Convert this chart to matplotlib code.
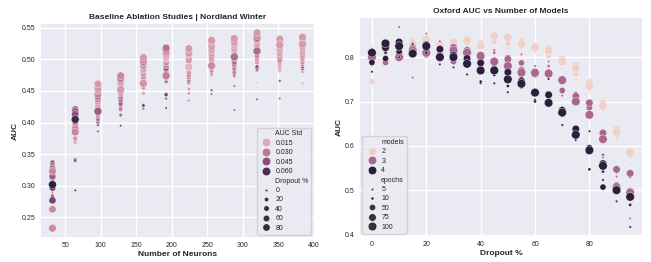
import matplotlib
matplotlib.use("Agg")
import matplotlib.pyplot as plt
import numpy as np
import pandas as pd
import seaborn as sns

# ---- left: baseline ablation (Nordland Winter) ----
neurons = [32, 64, 96, 128, 160, 192, 224, 256, 288, 320, 352, 384]
dropouts = [0, 5, 10, 15, 20, 25, 30, 35, 40, 45, 50, 55, 60, 65, 70, 75, 80, 85, 90, 95]

auc_left = [
    [0.290, 0.285, 0.283, 0.295, 0.310, 0.305, 0.337, 0.333, 0.330, 0.318,
     0.313, 0.320, 0.327, 0.297, 0.315, 0.277, 0.263, 0.323, 0.233, 0.302],
    [0.293, 0.342, 0.340, 0.368, 0.370, 0.373, 0.375, 0.385, 0.388, 0.392,
     0.396, 0.400, 0.410, 0.415, 0.421, 0.418, 0.413, 0.390, 0.385, 0.405],
    [0.386, 0.396, 0.399, 0.401, 0.405, 0.410, 0.413, 0.416, 0.420, 0.424,
     0.426, 0.430, 0.433, 0.437, 0.442, 0.445, 0.450, 0.454, 0.461, 0.418],
    [0.395, 0.410, 0.412, 0.420, 0.422, 0.428, 0.430, 0.436, 0.440, 0.445,
     0.448, 0.452, 0.455, 0.458, 0.462, 0.465, 0.468, 0.470, 0.474, 0.452],
    [0.422, 0.428, 0.427, 0.446, 0.455, 0.462, 0.465, 0.470, 0.472, 0.476,
     0.478, 0.482, 0.484, 0.488, 0.490, 0.494, 0.496, 0.499, 0.503, 0.462],
    [0.423, 0.438, 0.445, 0.444, 0.465, 0.470, 0.474, 0.478, 0.484, 0.486,
     0.490, 0.495, 0.500, 0.502, 0.505, 0.508, 0.511, 0.515, 0.518, 0.474],
    [0.435, 0.446, 0.453, 0.463, 0.466, 0.471, 0.475, 0.480, 0.484, 0.488,
     0.492, 0.497, 0.500, 0.503, 0.507, 0.508, 0.510, 0.514, 0.517, 0.488],
    [0.445, 0.451, 0.475, 0.478, 0.482, 0.485, 0.488, 0.490, 0.493, 0.497,
     0.500, 0.505, 0.509, 0.512, 0.515, 0.520, 0.525, 0.528, 0.530, 0.490],
    [0.420, 0.458, 0.474, 0.477, 0.480, 0.485, 0.490, 0.493, 0.496, 0.500,
     0.504, 0.508, 0.512, 0.515, 0.518, 0.522, 0.525, 0.528, 0.533, 0.504],
    [0.437, 0.463, 0.483, 0.486, 0.488, 0.495, 0.500, 0.505, 0.512, 0.515,
     0.518, 0.520, 0.524, 0.527, 0.530, 0.532, 0.534, 0.537, 0.542, 0.513],
    [0.438, 0.466, 0.482, 0.485, 0.488, 0.491, 0.495, 0.498, 0.500, 0.503,
     0.505, 0.508, 0.510, 0.514, 0.518, 0.522, 0.525, 0.528, 0.532, 0.523],
    [0.462, 0.480, 0.485, 0.488, 0.492, 0.495, 0.499, 0.502, 0.506, 0.510,
     0.514, 0.517, 0.520, 0.523, 0.526, 0.528, 0.530, 0.532, 0.535, 0.524],
]
std_left = [
    [0.030, 0.055, 0.050, 0.060, 0.060, 0.055, 0.045, 0.040, 0.040, 0.050,
     0.035, 0.030, 0.035, 0.055, 0.040, 0.050, 0.025, 0.025, 0.025, 0.067],
    [0.050, 0.045, 0.045, 0.020, 0.020, 0.020, 0.020, 0.030, 0.025, 0.030,
     0.035, 0.030, 0.035, 0.035, 0.040, 0.040, 0.045, 0.025, 0.025, 0.062],
    [0.045, 0.040, 0.040, 0.035, 0.035, 0.030, 0.030, 0.030, 0.035, 0.025,
     0.025, 0.020, 0.020, 0.025, 0.035, 0.030, 0.020, 0.020, 0.020, 0.040],
    [0.050, 0.020, 0.035, 0.035, 0.030, 0.030, 0.040, 0.035, 0.030, 0.025,
     0.025, 0.020, 0.020, 0.020, 0.020, 0.025, 0.030, 0.030, 0.025, 0.020],
    [0.040, 0.040, 0.048, 0.015, 0.025, 0.025, 0.030, 0.030, 0.028, 0.025,
     0.025, 0.022, 0.020, 0.025, 0.025, 0.028, 0.032, 0.030, 0.020, 0.022],
    [0.045, 0.035, 0.050, 0.052, 0.030, 0.030, 0.025, 0.030, 0.045, 0.045,
     0.025, 0.025, 0.020, 0.015, 0.020, 0.020, 0.025, 0.030, 0.032, 0.028],
    [0.030, 0.025, 0.020, 0.030, 0.028, 0.025, 0.025, 0.025, 0.020, 0.015,
     0.020, 0.025, 0.030, 0.022, 0.020, 0.020, 0.025, 0.022, 0.020, 0.012],
    [0.035, 0.035, 0.020, 0.020, 0.030, 0.028, 0.025, 0.025, 0.022, 0.020,
     0.020, 0.022, 0.025, 0.020, 0.020, 0.022, 0.025, 0.020, 0.020, 0.025],
    [0.035, 0.025, 0.035, 0.032, 0.030, 0.030, 0.030, 0.035, 0.040, 0.028,
     0.035, 0.025, 0.020, 0.020, 0.020, 0.020, 0.020, 0.022, 0.020, 0.035],
    [0.040, 0.005, 0.040, 0.040, 0.040, 0.020, 0.020, 0.025, 0.035, 0.030,
     0.025, 0.025, 0.025, 0.020, 0.020, 0.035, 0.035, 0.025, 0.020, 0.035],
    [0.040, 0.035, 0.020, 0.018, 0.015, 0.018, 0.020, 0.025, 0.035, 0.028,
     0.025, 0.022, 0.020, 0.020, 0.020, 0.025, 0.025, 0.022, 0.020, 0.020],
    [0.020, 0.020, 0.040, 0.035, 0.025, 0.025, 0.025, 0.022, 0.020, 0.022,
     0.020, 0.020, 0.025, 0.022, 0.020, 0.020, 0.020, 0.020, 0.020, 0.020],
]

# ---- right: Oxford AUC vs number of models ----
dropout_pct = [0, 5, 10, 15, 20, 25, 30, 35, 40, 45, 50, 55, 60, 65, 70, 75, 80, 85, 90, 95]
epochs = [5, 10, 50, 75, 100]
models = [2, 3, 4]

auc_m2 = [
    [0.778, 0.785, 0.745, 0.795, 0.800], [0.758, 0.800, 0.810, 0.820, 0.825],
    [0.805, 0.810, 0.815, 0.820, 0.825], [0.820, 0.825, 0.830, 0.836, 0.830],
    [0.830, 0.835, 0.842, 0.838, 0.840], [0.820, 0.825, 0.828, 0.830, 0.828],
    [0.825, 0.830, 0.838, 0.835, 0.832], [0.815, 0.825, 0.831, 0.842, 0.838],
    [0.810, 0.820, 0.828, 0.831, 0.826], [0.820, 0.830, 0.836, 0.851, 0.848],
    [0.810, 0.820, 0.831, 0.848, 0.845], [0.810, 0.818, 0.825, 0.836, 0.830],
    [0.810, 0.815, 0.820, 0.825, 0.822], [0.790, 0.800, 0.804, 0.820, 0.815],
    [0.775, 0.782, 0.790, 0.797, 0.790], [0.740, 0.750, 0.762, 0.781, 0.775],
    [0.720, 0.730, 0.730, 0.743, 0.735], [0.670, 0.680, 0.685, 0.697, 0.690],
    [0.615, 0.620, 0.623, 0.637, 0.630], [0.547, 0.560, 0.579, 0.588, 0.585],
]
auc_m3 = [
    [0.819, 0.810, 0.800, 0.805, 0.800], [0.790, 0.795, 0.788, 0.830, 0.825],
    [0.868, 0.815, 0.803, 0.810, 0.800], [0.754, 0.815, 0.823, 0.820, 0.815],
    [0.853, 0.810, 0.805, 0.810, 0.810], [0.836, 0.810, 0.800, 0.805, 0.800],
    [0.800, 0.790, 0.790, 0.822, 0.815], [0.810, 0.800, 0.817, 0.815, 0.810],
    [0.790, 0.795, 0.806, 0.800, 0.803], [0.816, 0.810, 0.793, 0.790, 0.790],
    [0.800, 0.780, 0.799, 0.795, 0.780], [0.806, 0.785, 0.787, 0.770, 0.765],
    [0.780, 0.770, 0.766, 0.762, 0.765], [0.790, 0.780, 0.767, 0.765, 0.763],
    [0.713, 0.720, 0.725, 0.750, 0.748], [0.715, 0.720, 0.704, 0.712, 0.700],
    [0.700, 0.690, 0.686, 0.697, 0.670], [0.574, 0.580, 0.613, 0.629, 0.615],
    [0.531, 0.540, 0.512, 0.547, 0.507], [0.436, 0.530, 0.499, 0.538, 0.495],
]
auc_m4 = [
    [0.767, 0.790, 0.788, 0.810, 0.810], [0.800, 0.810, 0.797, 0.821, 0.831],
    [0.800, 0.823, 0.813, 0.834, 0.825], [0.830, 0.810, 0.813, 0.810, 0.808],
    [0.820, 0.810, 0.819, 0.828, 0.825], [0.784, 0.800, 0.803, 0.818, 0.800],
    [0.777, 0.795, 0.807, 0.805, 0.800], [0.761, 0.780, 0.787, 0.797, 0.785],
    [0.741, 0.745, 0.773, 0.787, 0.770], [0.741, 0.760, 0.775, 0.770, 0.770],
    [0.721, 0.735, 0.752, 0.766, 0.750], [0.731, 0.736, 0.749, 0.745, 0.740],
    [0.704, 0.700, 0.722, 0.720, 0.720], [0.751, 0.697, 0.717, 0.715, 0.697],
    [0.647, 0.668, 0.682, 0.680, 0.675], [0.613, 0.620, 0.629, 0.638, 0.625],
    [0.633, 0.547, 0.596, 0.590, 0.590], [0.523, 0.542, 0.507, 0.560, 0.555],
    [0.475, 0.497, 0.503, 0.503, 0.500], [0.417, 0.467, 0.486, 0.486, 0.485],
]

# build long tables
rows = []
for i, n in enumerate(neurons):
    for j, d in enumerate(dropouts):
        rows.append({"Number of Neurons": n, "AUC": auc_left[i][j],
                     "AUC Std": std_left[i][j], "Dropout %": d})
df_left = pd.DataFrame(rows)

rows = []
for m, table in zip(models, [auc_m2, auc_m3, auc_m4]):
    for i, d in enumerate(dropout_pct):
        for k, e in enumerate(epochs):
            rows.append({"Dropout %": d, "AUC": table[i][k], "models": m, "epochs": e})
df_right = pd.DataFrame(rows)

sns.set_theme(style="darkgrid")
plt.rcParams['font.family'] = ['Liberation Sans', 'DejaVu Sans']
plt.rcParams['xtick.labelsize'] = 5
plt.rcParams['ytick.labelsize'] = 5
plt.rcParams['xtick.major.size'] = 0
plt.rcParams['ytick.major.size'] = 0
plt.rcParams['xtick.major.pad'] = 3
plt.rcParams['ytick.major.pad'] = 3
plt.rcParams['legend.fontsize'] = 5
plt.rcParams['axes.labelsize'] = 6
plt.rcParams['axes.titlesize'] = 6

fig = plt.figure(figsize=(6.51, 2.62), dpi=100)
ax1 = fig.add_axes([0.0614, 0.0916, 0.4224, 0.8206])
ax2 = fig.add_axes([0.5515, 0.0954, 0.4363, 0.8397])

sns.scatterplot(data=df_left, x="Number of Neurons", y="AUC", hue="AUC Std",
                size="Dropout %", sizes=(3, 32), linewidth=0.25, ax=ax1)
ax1.set_title("Baseline Ablation Studies | Nordland Winter", fontweight="bold", pad=3)
ax1.set_xlabel("Number of Neurons", fontweight="bold", labelpad=1)
ax1.set_ylabel("AUC", fontweight="bold", labelpad=2)
ax1.legend(loc="lower right", fontsize=5, handletextpad=0.3, labelspacing=0.35,
           borderpad=0.4)

sns.scatterplot(data=df_right, x="Dropout %", y="AUC", hue="models",
                size="epochs", sizes=(3, 38), linewidth=0.25, ax=ax2)
ax2.set_title("Oxford AUC vs Number of Models", fontweight="bold", pad=3)
ax2.set_xlabel("Dropout %", fontweight="bold", labelpad=1)
ax2.set_ylabel("AUC", fontweight="bold", labelpad=2)
ax2.set_yticks([0.4, 0.5, 0.6, 0.7, 0.8])
ax2.legend(loc="lower left", fontsize=5, handletextpad=0.3, labelspacing=0.35,
           borderpad=0.4)

fig.savefig("out.png", dpi=100)
